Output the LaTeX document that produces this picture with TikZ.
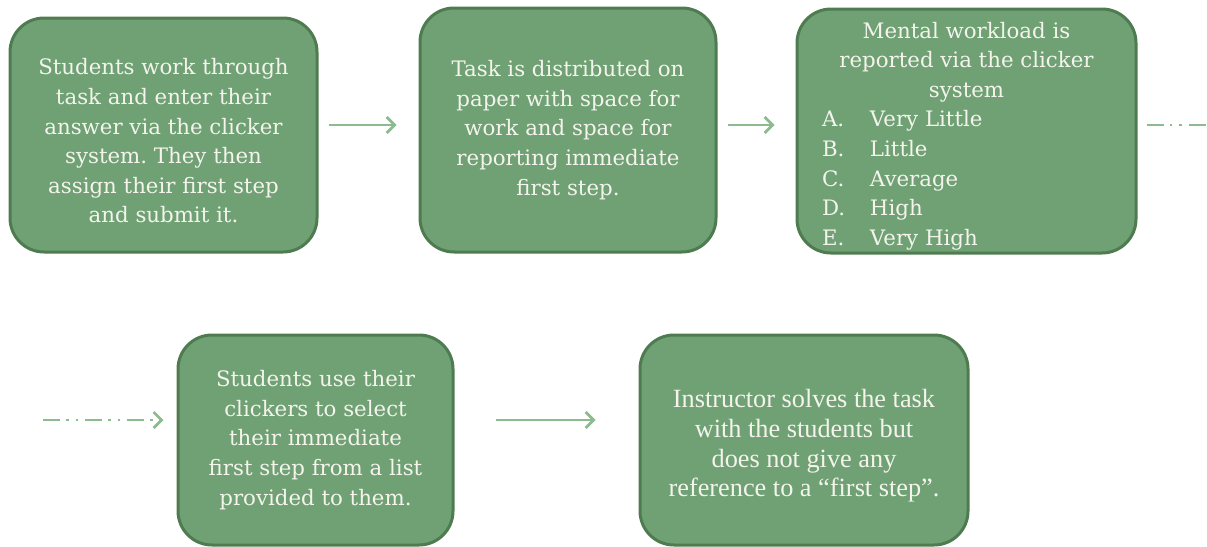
\documentclass[tikz,border=0pt]{standalone}
\usepackage{fontspec}
\setmainfont{DejaVu Serif}
\newfontfamily\palfont{Liberation Serif}
\usetikzlibrary{arrows.meta}
\definecolor{boxfill}{HTML}{6FA174}
\definecolor{boxline}{HTML}{4E7B50}
\definecolor{boxtext}{HTML}{F4F4EC}
\definecolor{arrcol}{HTML}{8DBB90}
\frenchspacing
\tikzset{
  stagebox/.style={draw=boxline, line width=3pt, fill=boxfill, rounded corners=34pt,
    text=boxtext, align=center, inner sep=0pt,
    font=\fontsize{21.3}{29.6}\selectfont},
  arr/.style={draw=arrcol, line width=2.8pt, -{Straight Barb[length=8pt,width=16pt,line width=2.8pt]}},
  dashdots/.style={dash pattern=on 17pt off 6pt on 2.5pt off 7pt on 2.5pt off 7pt}
}
\begin{document}
\begin{tikzpicture}[x=1pt,y=-1pt]
\useasboundingbox (0,0) rectangle (1207,546);
\node[stagebox, minimum width=307pt, minimum height=234pt] (b1) at (163.5,135)
  {\rule{0pt}{28pt}Students work through\\ task and enter their\\ answer via the clicker\\ system. They then\\ assign their first step\\ and submit it.};
\node[stagebox, minimum width=296pt, minimum height=244pt] (b2) at (568,130)
  {Task is distributed on\\ paper with space for\\ work and space for\\ reporting immediate\\ first step.};
\node[stagebox, minimum width=339pt, minimum height=244pt] (b3) at (966.5,131)
  {\parbox{335pt}{\centering \rule{0pt}{26pt}Mental workload is\\ reported via the clicker\\ system\par
   \raggedright
   \hspace*{23pt}\makebox[48pt][l]{A.}Very Little\\
   \hspace*{23pt}\makebox[48pt][l]{B.}Little\\
   \hspace*{23pt}\makebox[48pt][l]{C.}Average\\
   \hspace*{23pt}\makebox[48pt][l]{D.}High\\
   \hspace*{23pt}\makebox[48pt][l]{E.}Very High}};
\node[stagebox, minimum width=275pt, minimum height=210pt] (b4) at (315.5,440)
  {Students use their\\ clickers to select\\ their immediate\\ first step from a list\\ provided to them.};
\node[stagebox, minimum width=328pt, minimum height=210pt,
  font=\palfont\fontsize{26.3}{29.6}\selectfont] (b5) at (804,440)
  {\rule{0pt}{30pt}Instructor solves the task\\ with the students but\\ does not give any\\ reference to a “first step”.};
\coordinate (out3) at (1207,125);
\coordinate (in4) at (43,420);
\draw[arr] ([xshift=10pt,yshift=10pt]b1.east) -- ([xshift=-22pt,yshift=10pt]b1.east -| b2.west);
\draw[arr] ([xshift=10pt,yshift=5pt]b2.east) -- ([xshift=-21pt,yshift=5pt]b2.east -| b3.west);
\draw[draw=arrcol, line width=2.8pt, dashdots] ([xshift=9pt]b3.east |- out3) -- (out3);
\draw[arr, dashdots] (in4) -- ([xshift=-13pt]b4.west |- in4);
\draw[arr] ([xshift=41pt,yshift=20pt]b4.east) -- ([xshift=-43pt,yshift=20pt]b4.east -| b5.west);
\end{tikzpicture}
\end{document}
